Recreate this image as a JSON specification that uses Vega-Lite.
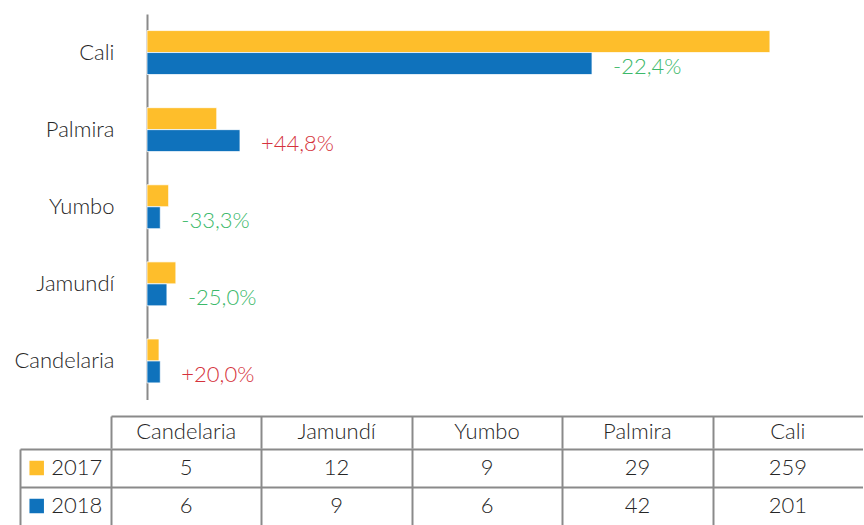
{
  "$schema": "https://vega.github.io/schema/vega-lite/v6.json",
  "background": "white",
  "padding": {"left": 13, "top": 14, "right": 0, "bottom": 0},
  "bounds": "flush",
  "spacing": 16,
  "config": {
    "font": "Lato",
    "view": {"stroke": null},
    "locale": {"number": {"decimal": ",", "thousands": ".", "grouping": [3], "currency": ["$", ""], "minus": "-"}}
  },
  "data": {
    "values": [
      {"ciudad": "Cali", "anio": "2017", "valor": 259},
      {"ciudad": "Cali", "anio": "2018", "valor": 201, "cambio": -0.224},
      {"ciudad": "Palmira", "anio": "2017", "valor": 29},
      {"ciudad": "Palmira", "anio": "2018", "valor": 42, "cambio": 0.448},
      {"ciudad": "Yumbo", "anio": "2017", "valor": 9},
      {"ciudad": "Yumbo", "anio": "2018", "valor": 6, "cambio": -0.333},
      {"ciudad": "Jamundí", "anio": "2017", "valor": 12},
      {"ciudad": "Jamundí", "anio": "2018", "valor": 9, "cambio": -0.25},
      {"ciudad": "Candelaria", "anio": "2017", "valor": 5},
      {"ciudad": "Candelaria", "anio": "2018", "valor": 6, "cambio": 0.2}
    ]
  },
  "vconcat": [
    {
      "width": 752,
      "height": 385.5,
      "layer": [
        {
          "transform": [{"filter": "datum.anio === '2017'"}],
          "mark": {"type": "bar", "stroke": "#ffffff", "strokeWidth": 0.75},
          "encoding": {
            "y": {
              "field": "ciudad", "type": "nominal",
              "scale": {"domain": ["Cali", "Palmira", "Yumbo", "Jamundí", "Candelaria"], "paddingInner": 0.43, "paddingOuter": 0.215},
              "axis": {"orient": "left", "offset": -36, "title": null, "ticks": false, "domain": true, "domainColor": "#8a8a8a", "domainWidth": 2, "labelPadding": 33, "labelFontSize": 22, "labelFontWeight": 300, "labelColor": "#262626"}
            },
            "yOffset": {"field": "anio", "type": "nominal", "scale": {"domain": ["2017", "2018"], "paddingInner": 0, "paddingOuter": 0}},
            "x": {"field": "valor", "type": "quantitative", "scale": {"domain": [-14.97, 297.7], "nice": false, "zero": false}, "axis": null},
            "color": {"field": "anio", "type": "nominal", "scale": {"domain": ["2017", "2018"], "range": ["#FEBE2B", "#0F72BC"]}, "legend": null}
          }
        },
        {
          "transform": [{"filter": "datum.anio === '2018'"}],
          "mark": {"type": "bar", "stroke": "#ffffff", "strokeWidth": 0.75},
          "encoding": {
            "y": {"field": "ciudad", "type": "nominal", "scale": {"domain": ["Cali", "Palmira", "Yumbo", "Jamundí", "Candelaria"]}},
            "yOffset": {"field": "anio", "type": "nominal", "scale": {"domain": ["2017", "2018"]}},
            "x": {"field": "valor", "type": "quantitative", "scale": {"domain": [-16.26, 323.4], "nice": false, "zero": false}, "axis": null},
            "color": {"field": "anio", "type": "nominal", "legend": null}
          }
        },
        {
          "transform": [{"filter": "datum.anio === '2018'"}],
          "mark": {"type": "text", "align": "left", "baseline": "middle", "dx": 21, "dy": 14, "fontSize": 22, "fontWeight": 300},
          "encoding": {
            "y": {"field": "ciudad", "type": "nominal", "scale": {"domain": ["Cali", "Palmira", "Yumbo", "Jamundí", "Candelaria"]}},
            "x": {"field": "valor", "type": "quantitative", "scale": {"domain": [-16.26, 323.4], "nice": false, "zero": false}, "axis": null},
            "text": {"field": "cambio", "type": "quantitative", "format": "+.1%"},
            "color": {"condition": {"test": "datum.cambio < 0", "value": "#3CB96A"}, "value": "#D5333C"}
          }
        }
      ],
      "resolve": {"scale": {"x": "independent"}}
    },
    {
      "spacing": 0,
      "bounds": "flush",
      "vconcat": [
        {
          "width": 752,
          "height": 32.2,
          "transform": [{"filter": "datum.anio === '2017'"}],
          "mark": {"type": "text", "baseline": "middle", "fontSize": 22, "fontWeight": 300, "color": "#262626"},
          "encoding": {
            "x": {
              "field": "ciudad", "type": "nominal",
              "scale": {"domain": ["Candelaria", "Jamundí", "Yumbo", "Palmira", "Cali"], "paddingInner": 0, "paddingOuter": 0},
              "axis": {"orient": "top", "title": null, "labels": false, "ticks": false, "domain": true, "domainColor": "#8a8a8a", "domainWidth": 2, "grid": true, "gridColor": "#8a8a8a", "gridWidth": 2, "tickBand": "extent", "gridOpacity": {"condition": {"test": "datum.value === 'Cali'", "value": 0}, "value": 1}}
            },
            "text": {"field": "ciudad", "type": "nominal"}
          }
        },
        {
          "width": 752,
          "height": 76,
          "layer": [
            {
              "mark": {"type": "text", "baseline": "middle", "fontSize": 22, "fontWeight": 300, "color": "#262626"},
              "encoding": {
                "x": {
                  "field": "ciudad", "type": "nominal",
                  "scale": {"domain": ["Candelaria", "Jamundí", "Yumbo", "Palmira", "Cali"], "paddingInner": 0, "paddingOuter": 0},
                  "axis": {"orient": "top", "title": null, "labels": false, "ticks": false, "domain": false, "grid": true, "gridColor": "#8a8a8a", "gridWidth": 2, "tickBand": "extent", "gridOpacity": {"condition": {"test": "datum.value === 'Cali'", "value": 0}, "value": 1}}
                },
                "y": {
                  "field": "anio", "type": "nominal",
                  "scale": {"domain": ["2017", "2018"], "paddingInner": 0, "paddingOuter": 0},
                  "axis": {"orient": "left", "offset": 91, "title": null, "labels": false, "ticks": true, "tickSize": -91, "tickBand": "extent", "tickColor": "#8a8a8a", "tickWidth": 2, "domain": true, "domainColor": "#8a8a8a", "domainWidth": 2, "grid": true, "gridColor": "#8a8a8a", "gridWidth": 2, "gridOpacity": {"condition": {"test": "datum.value === '2018'", "value": 0}, "value": 1}, "tickOpacity": {"condition": {"test": "datum.value === '2018'", "value": 0}, "value": 1}}
                },
                "text": {"field": "valor", "type": "quantitative"}
              }
            },
            {
              "transform": [{"filter": "datum.ciudad === 'Candelaria'"}],
              "mark": {"type": "text", "align": "left", "baseline": "middle", "dx": -135, "fontSize": 22, "fontWeight": 300, "color": "#262626"},
              "encoding": {
                "x": {"field": "ciudad", "type": "nominal", "scale": {"domain": ["Candelaria", "Jamundí", "Yumbo", "Palmira", "Cali"]}},
                "y": {"field": "anio", "type": "nominal", "scale": {"domain": ["2017", "2018"]}},
                "text": {"field": "anio", "type": "nominal"}
              }
            },
            {
              "transform": [{"filter": "datum.ciudad === 'Candelaria'"}],
              "mark": {"type": "point", "shape": "square", "filled": true, "size": 210, "opacity": 1, "xOffset": -149.5},
              "encoding": {
                "x": {"field": "ciudad", "type": "nominal", "scale": {"domain": ["Candelaria", "Jamundí", "Yumbo", "Palmira", "Cali"]}},
                "y": {"field": "anio", "type": "nominal", "scale": {"domain": ["2017", "2018"]}},
                "color": {"field": "anio", "type": "nominal", "legend": null}
              }
            }
          ]
        }
      ]
    }
  ]
}
